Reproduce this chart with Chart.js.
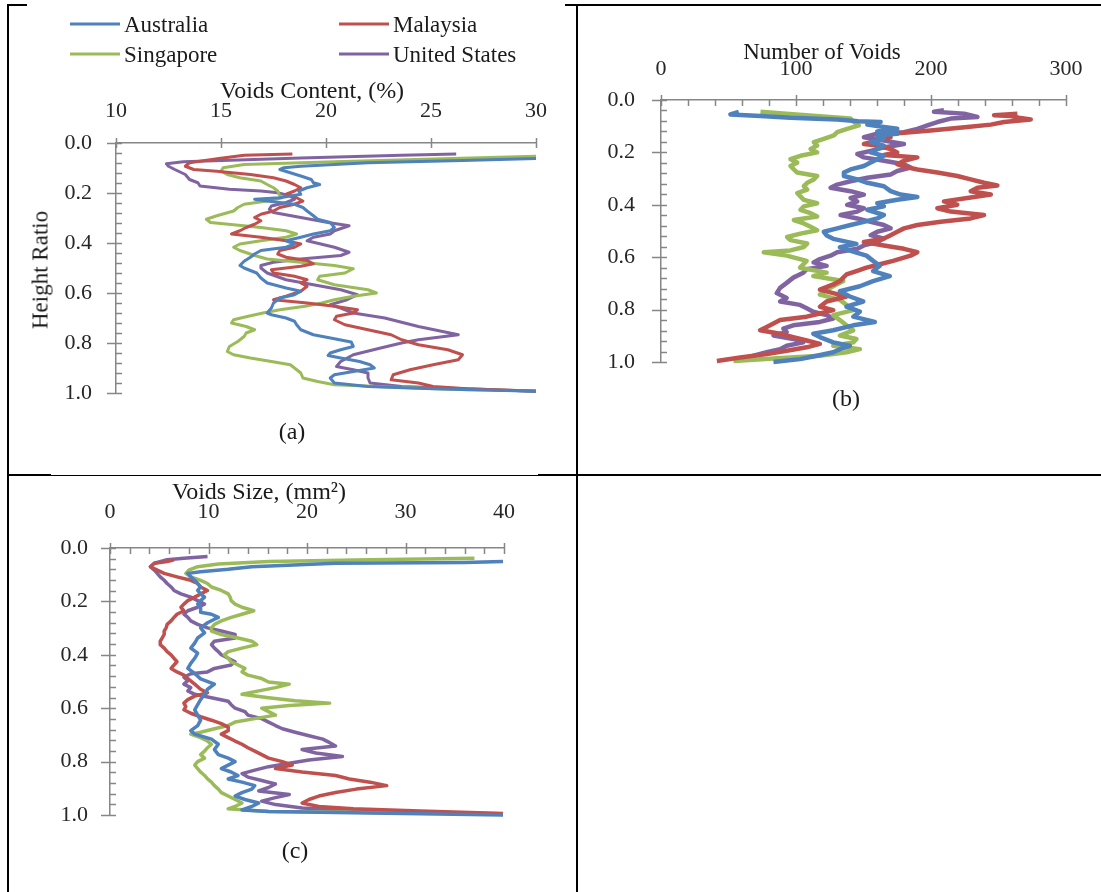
<!DOCTYPE html>
<html>
<head>
<meta charset="utf-8">
<script src="https://cdn.jsdelivr.net/npm/chart.js@4.4.1/dist/chart.umd.min.js"></script>
<style>
  body { margin: 0; background: #fff; }
  #page { position: relative; width: 1101px; height: 892px; background: #fff; overflow: hidden; }
  .rule { position: absolute; background: #000; }
  canvas { position: absolute; }
  .t { position: absolute; font-family: 'Liberation Serif', 'Times New Roman', serif; color: #1a1a1a;
       white-space: nowrap; line-height: 1; transform: translate(-50%, -50%); }
  .leg { position: absolute; display: flex; align-items: center; transform: translateY(-50%);
         font-family: 'Liberation Serif', 'Times New Roman', serif; font-size: 23px; color: #1a1a1a; line-height: 1; }
  .leg span { display: inline-block; width: 50px; height: 3px; margin-right: 4px; }
</style>
</head>
<body>
<div id="page">
  <!-- table rules -->
  <div class="rule" style="left:7px;top:4px;width:20px;height:2px"></div>
  <div class="rule" style="left:565px;top:4px;width:536px;height:2px"></div>
  <div class="rule" style="left:7px;top:4px;width:2px;height:888px"></div>
  <div class="rule" style="left:576px;top:4px;width:2px;height:888px"></div>
  <div class="rule" style="left:7px;top:474px;width:44px;height:2px"></div>
  <div class="rule" style="left:51px;top:475px;width:487px;height:1px"></div>
  <div class="rule" style="left:538px;top:474px;width:563px;height:2px"></div>

  <canvas id="chartA" width="566" height="466" style="left:9px;top:7px"></canvas>
  <canvas id="chartB" width="522" height="466" style="left:579px;top:7px"></canvas>
  <canvas id="chartC" width="566" height="415" style="left:9px;top:477px"></canvas>

  <div id="legend"></div>
  <div class="t" style="left:312px;top:90px;font-size:24px">Voids Content, (%)</div>
  <div class="t" style="left:40px;top:270px;font-size:23px;transform:translate(-50%,-50%) rotate(-90deg)">Height Ratio</div>
  <div class="t" style="left:292px;top:431px;font-size:24px">(a)</div>
  <div class="t" style="left:822px;top:51px;font-size:23px">Number of Voids</div>
  <div class="t" style="left:846px;top:398px;font-size:24px">(b)</div>
  <div class="t" style="left:259px;top:491px;font-size:24px">Voids Size, (mm²)</div>
  <div class="t" style="left:295px;top:850px;font-size:24px">(c)</div>
</div>
<script>
const countries = ["Australia", "Malaysia", "Singapore", "United States"];
const colors = ["#4F81BD", "#C0504D", "#9BBB59", "#8064A2"];

const heightTicks = [0, 0.2, 0.4, 0.6, 0.8, 1.0];
const contentTicks = [10, 15, 20, 25, 30];
const numberTicks = [0, 100, 200, 300];
const sizeTicks = [0, 10, 20, 30, 40];

// [height ratio, value] pairs

// (a) voids content, %
const contentAustralia = [[0.062,30],[0.070,26.5],[0.079,22.0],[0.093,18.8],[0.099,18.0],[0.106,17.8],[0.119,18.3],[0.132,18.8],[0.146,19.3],[0.159,19.4],[0.166,19.7],[0.179,19.1],[0.192,18.7],[0.205,18.8],[0.219,17.8],[0.225,16.6],[0.232,17.2],[0.245,18.5],[0.258,18.9],[0.272,19.1],[0.291,19.4],[0.305,19.6],[0.318,20.2],[0.338,20.4],[0.351,20.2],[0.364,19.4],[0.377,18.8],[0.391,18.1],[0.404,18.5],[0.417,18.1],[0.430,16.9],[0.444,16.6],[0.457,16.4],[0.473,16.1],[0.490,15.9],[0.500,16.1],[0.520,16.7],[0.540,16.9],[0.560,17.2],[0.580,18.1],[0.593,18.8],[0.607,18.5],[0.620,17.8],[0.640,17.5],[0.660,17.4],[0.680,17.2],[0.687,17.4],[0.700,18.1],[0.713,18.5],[0.727,18.6],[0.747,18.8],[0.767,19.4],[0.783,20.4],[0.796,21.2],[0.814,21.3],[0.827,20.7],[0.840,20.2],[0.850,20.1],[0.860,20.7],[0.874,21.6],[0.887,22.1],[0.900,22.3],[0.914,21.3],[0.927,20.4],[0.940,20.2],[0.960,20.4],[0.974,22.0],[0.983,25.1],[0.993,30]];
const contentMalaysia = [[0.044,18.4],[0.049,16.1],[0.062,14.9],[0.079,13.5],[0.093,13.3],[0.106,13.7],[0.113,14.8],[0.126,16.4],[0.139,17.5],[0.152,18.1],[0.166,18.5],[0.179,18.8],[0.192,18.5],[0.205,18.1],[0.219,18.6],[0.232,18.9],[0.245,18.5],[0.258,17.8],[0.272,17.5],[0.285,16.9],[0.298,16.6],[0.311,16.9],[0.325,16.6],[0.338,16.2],[0.351,15.9],[0.364,15.5],[0.377,16.9],[0.391,18.1],[0.404,18.8],[0.417,18.5],[0.430,17.8],[0.444,17.7],[0.457,18.1],[0.470,19.1],[0.483,19.4],[0.493,18.8],[0.507,17.4],[0.520,17.5],[0.533,18.5],[0.547,19.1],[0.560,18.8],[0.573,19.1],[0.593,18.8],[0.613,18.1],[0.627,17.5],[0.640,19.1],[0.653,20.4],[0.667,21.5],[0.680,21.3],[0.693,20.5],[0.707,20.4],[0.727,20.9],[0.747,22.0],[0.767,23.1],[0.787,23.6],[0.807,24.4],[0.827,25.8],[0.847,26.5],[0.867,26.3],[0.887,25.1],[0.907,24.0],[0.927,23.2],[0.947,23.1],[0.960,24.4],[0.974,25.1],[0.983,26.7],[0.993,30]];
const contentSingapore = [[0.053,30],[0.062,26.0],[0.075,20.4],[0.086,16.1],[0.099,15.1],[0.113,15.0],[0.126,15.3],[0.139,15.9],[0.152,16.9],[0.166,17.2],[0.179,17.5],[0.192,17.7],[0.212,17.8],[0.219,17.9],[0.232,17.2],[0.245,16.1],[0.258,15.8],[0.272,15.6],[0.291,14.8],[0.305,14.3],[0.318,14.5],[0.327,15.6],[0.338,16.9],[0.351,18.1],[0.364,18.6],[0.377,18.1],[0.391,16.9],[0.404,15.9],[0.417,15.6],[0.430,15.9],[0.450,16.6],[0.464,17.2],[0.477,18.8],[0.490,20.4],[0.503,21.3],[0.520,20.9],[0.533,19.7],[0.547,19.6],[0.567,20.4],[0.587,22.0],[0.600,22.4],[0.613,21.3],[0.627,20.4],[0.640,19.8],[0.653,19.0],[0.667,17.8],[0.680,17.0],[0.693,16.3],[0.707,15.6],[0.720,15.5],[0.734,16.2],[0.747,16.6],[0.760,16.2],[0.774,16.1],[0.794,15.8],[0.814,15.4],[0.834,15.3],[0.847,15.6],[0.860,16.4],[0.874,17.4],[0.887,18.3],[0.900,18.5],[0.920,18.8],[0.940,18.9],[0.954,19.6],[0.967,20.4],[0.978,23.6],[0.987,26.7],[0.991,30]];
const contentUnitedStates = [[0.044,26.2],[0.049,23.6],[0.060,18.8],[0.075,13.2],[0.083,12.4],[0.093,12.5],[0.106,12.8],[0.126,13.3],[0.146,13.5],[0.159,13.9],[0.172,14.0],[0.185,15.4],[0.192,16.9],[0.199,17.7],[0.212,18.3],[0.225,18.5],[0.238,18.1],[0.252,17.4],[0.265,17.3],[0.278,17.5],[0.298,18.8],[0.318,20.1],[0.331,21.1],[0.351,20.4],[0.364,20.2],[0.377,19.4],[0.391,19.1],[0.417,20.4],[0.437,21.1],[0.450,20.7],[0.464,18.8],[0.477,17.5],[0.490,16.9],[0.500,16.9],[0.520,17.2],[0.547,18.1],[0.567,19.4],[0.587,20.7],[0.607,21.5],[0.627,21.0],[0.647,20.2],[0.660,20.7],[0.680,21.3],[0.700,22.8],[0.734,24.4],[0.767,26.3],[0.787,24.4],[0.800,23.6],[0.820,22.6],[0.847,21.3],[0.874,20.7],[0.894,20.5],[0.907,21.3],[0.920,22.0],[0.940,22.0],[0.960,22.1],[0.974,23.6],[0.983,26.7],[0.993,30]];

// (b) number of voids
const numberAustralia = [[0.045,57.6],[0.055,51.4],[0.061,73.7],[0.068,95.9],[0.074,130.5],[0.081,146.0],[0.084,162.7],[0.094,152.8],[0.103,165.1],[0.110,175.0],[0.120,160.2],[0.129,175.0],[0.135,160.2],[0.148,165.1],[0.161,155.3],[0.174,165.1],[0.187,160.2],[0.200,155.3],[0.213,165.1],[0.226,160.2],[0.239,155.3],[0.252,150.3],[0.265,140.4],[0.277,135.5],[0.290,135.5],[0.303,145.4],[0.316,152.8],[0.329,165.1],[0.348,170.1],[0.361,177.5],[0.370,189.9],[0.381,175.0],[0.394,160.2],[0.406,165.1],[0.419,152.8],[0.439,165.1],[0.452,160.2],[0.465,150.3],[0.477,140.4],[0.490,130.5],[0.503,120.6],[0.517,122.7],[0.530,127.6],[0.549,144.8],[0.562,132.5],[0.575,139.9],[0.594,152.2],[0.614,157.1],[0.633,162.1],[0.653,157.1],[0.672,169.5],[0.691,157.1],[0.711,147.3],[0.730,132.5],[0.750,139.9],[0.769,149.8],[0.789,137.4],[0.808,147.3],[0.827,142.4],[0.847,158.4],[0.860,142.4],[0.879,127.6],[0.892,112.8],[0.905,117.7],[0.925,127.6],[0.938,139.9],[0.951,132.5],[0.963,127.6],[0.979,112.8],[0.989,103.0],[1.0,83.3]];
const numberMalaysia = [[0.052,264.0],[0.058,246.7],[0.061,259.1],[0.068,265.0],[0.074,273.9],[0.084,254.1],[0.094,244.3],[0.103,226.9],[0.116,199.8],[0.125,180.0],[0.133,160.2],[0.142,170.1],[0.155,160.2],[0.168,150.3],[0.174,160.2],[0.187,170.1],[0.200,175.0],[0.210,165.1],[0.219,189.9],[0.232,180.0],[0.245,175.0],[0.254,180.0],[0.265,189.9],[0.277,204.7],[0.290,219.5],[0.303,229.4],[0.316,239.3],[0.326,249.2],[0.335,234.4],[0.348,229.4],[0.361,244.3],[0.374,226.9],[0.387,209.6],[0.400,219.5],[0.413,204.7],[0.426,214.6],[0.439,239.3],[0.452,229.4],[0.465,207.2],[0.477,189.9],[0.490,180.0],[0.503,175.0],[0.516,170.1],[0.529,165.1],[0.542,150.3],[0.555,165.1],[0.568,180.0],[0.581,189.9],[0.594,184.9],[0.614,171.9],[0.627,162.1],[0.640,152.2],[0.653,144.8],[0.666,137.4],[0.678,135.0],[0.691,132.5],[0.704,127.6],[0.724,117.7],[0.737,127.6],[0.750,137.4],[0.769,122.7],[0.789,117.7],[0.802,127.6],[0.815,117.7],[0.827,107.9],[0.840,88.2],[0.853,83.3],[0.866,78.3],[0.879,73.4],[0.892,88.2],[0.905,98.0],[0.918,107.9],[0.931,117.7],[0.944,107.9],[0.957,93.1],[0.970,78.3],[0.983,58.6],[0.996,41.4]];
const numberSingapore = [[0.045,73.7],[0.055,100.0],[0.065,125.0],[0.071,140.4],[0.084,142.9],[0.097,146.6],[0.110,137.9],[0.123,130.5],[0.135,128.1],[0.148,120.6],[0.161,113.2],[0.174,115.7],[0.187,110.8],[0.200,115.7],[0.213,103.3],[0.226,95.9],[0.239,100.9],[0.252,95.9],[0.265,98.4],[0.277,100.9],[0.290,115.7],[0.303,113.2],[0.316,108.3],[0.329,105.8],[0.342,108.3],[0.355,100.9],[0.368,103.3],[0.381,105.8],[0.394,115.7],[0.406,105.8],[0.419,103.3],[0.432,110.8],[0.445,115.7],[0.458,98.4],[0.471,105.8],[0.484,110.8],[0.497,115.7],[0.510,103.3],[0.523,93.4],[0.535,95.9],[0.548,108.3],[0.561,105.8],[0.574,95.9],[0.581,76.1],[0.594,93.1],[0.614,107.9],[0.640,103.0],[0.659,122.7],[0.672,112.8],[0.691,135.0],[0.711,127.6],[0.724,122.7],[0.743,117.7],[0.763,132.5],[0.782,137.4],[0.802,142.4],[0.821,127.6],[0.840,132.5],[0.860,137.4],[0.879,142.4],[0.899,132.5],[0.912,144.8],[0.925,142.4],[0.938,127.6],[0.951,147.3],[0.963,137.4],[0.976,117.7],[0.987,83.3],[0.996,53.7]];
const numberUnitedStates = [[0.039,209.6],[0.045,202.2],[0.052,224.5],[0.065,234.4],[0.071,214.6],[0.084,204.7],[0.097,197.3],[0.110,189.9],[0.123,180.0],[0.129,160.2],[0.142,150.3],[0.155,165.1],[0.168,180.0],[0.181,165.1],[0.194,155.3],[0.206,145.4],[0.219,150.3],[0.232,165.1],[0.245,180.0],[0.258,184.9],[0.271,175.0],[0.284,170.1],[0.297,152.8],[0.310,140.4],[0.323,130.5],[0.335,125.6],[0.348,140.4],[0.361,150.3],[0.374,140.4],[0.387,145.4],[0.400,137.9],[0.413,150.3],[0.426,145.4],[0.439,133.0],[0.452,145.4],[0.465,155.3],[0.477,165.1],[0.490,170.1],[0.503,160.2],[0.516,155.3],[0.529,165.1],[0.542,160.2],[0.555,150.3],[0.568,145.4],[0.581,130.5],[0.594,125.6],[0.607,117.7],[0.620,113.0],[0.633,122.7],[0.646,107.9],[0.659,105.4],[0.678,98.0],[0.698,93.1],[0.717,88.2],[0.737,85.7],[0.756,93.1],[0.769,88.2],[0.782,103.0],[0.795,107.9],[0.808,112.8],[0.821,122.7],[0.834,127.6],[0.847,117.7],[0.860,98.0],[0.873,90.6],[0.886,93.1],[0.899,83.3],[0.912,98.0],[0.925,105.4],[0.938,93.1],[0.951,88.2],[0.963,78.3],[0.976,68.5],[0.989,58.6]];

// (c) voids size, mm2
const sizeAustralia = [[0.051,39.9],[0.054,36.0],[0.057,22.9],[0.070,14.4],[0.080,12.0],[0.089,9.2],[0.095,7.9],[0.108,8.2],[0.121,8.6],[0.133,8.9],[0.146,9.2],[0.159,8.9],[0.172,9.2],[0.184,9.6],[0.197,9.2],[0.210,8.9],[0.222,9.2],[0.241,9.2],[0.248,10.3],[0.260,11.0],[0.267,10.6],[0.280,9.9],[0.299,9.2],[0.318,9.6],[0.337,8.9],[0.356,8.6],[0.375,8.2],[0.394,8.9],[0.413,8.6],[0.432,8.2],[0.451,7.9],[0.470,8.6],[0.490,9.2],[0.510,10.6],[0.529,9.9],[0.548,9.6],[0.568,9.2],[0.587,8.9],[0.606,8.6],[0.626,8.9],[0.645,9.2],[0.665,8.9],[0.684,8.2],[0.697,8.6],[0.716,10.3],[0.735,11.0],[0.755,10.6],[0.774,11.0],[0.787,12.0],[0.800,12.7],[0.813,12.0],[0.826,11.3],[0.839,12.3],[0.852,13.0],[0.865,12.0],[0.877,13.4],[0.890,14.7],[0.903,14.4],[0.916,13.4],[0.929,12.7],[0.942,13.7],[0.955,15.1],[0.968,14.4],[0.981,13.4],[0.987,16.1],[0.994,29.8],[1.0,39.9]];
const sizeMalaysia = [[0.044,6.5],[0.051,5.8],[0.057,4.5],[0.070,4.1],[0.083,4.8],[0.095,5.5],[0.108,6.8],[0.121,8.2],[0.133,8.9],[0.146,9.2],[0.159,9.9],[0.172,9.2],[0.184,8.6],[0.197,7.9],[0.210,7.5],[0.222,7.2],[0.235,7.5],[0.248,6.8],[0.260,6.5],[0.273,6.2],[0.286,5.8],[0.299,5.7],[0.311,5.5],[0.324,5.5],[0.337,5.3],[0.349,5.1],[0.362,5.1],[0.375,5.5],[0.388,5.8],[0.400,6.2],[0.413,6.5],[0.426,6.8],[0.438,6.5],[0.451,6.2],[0.464,6.8],[0.476,7.5],[0.489,7.9],[0.510,8.6],[0.529,9.2],[0.542,9.9],[0.555,8.6],[0.568,7.9],[0.581,7.5],[0.594,7.7],[0.606,7.5],[0.619,8.2],[0.632,9.2],[0.645,10.3],[0.658,11.3],[0.671,12.0],[0.684,12.0],[0.697,11.3],[0.710,12.0],[0.723,12.7],[0.735,13.4],[0.748,14.0],[0.761,14.7],[0.774,15.4],[0.787,16.1],[0.800,17.5],[0.813,18.5],[0.826,16.8],[0.839,19.5],[0.852,22.9],[0.865,24.3],[0.877,26.4],[0.890,28.1],[0.903,25.0],[0.916,22.9],[0.929,21.2],[0.942,20.2],[0.955,19.5],[0.968,21.2],[0.977,24.7],[0.985,31.5],[0.994,39.9]];
const sizeSingapore = [[0.038,37.0],[0.044,26.4],[0.051,16.1],[0.060,11.0],[0.070,8.9],[0.083,8.0],[0.095,7.7],[0.108,8.2],[0.121,9.2],[0.133,9.9],[0.146,10.3],[0.159,11.3],[0.172,12.0],[0.184,12.2],[0.197,12.3],[0.210,12.7],[0.222,13.4],[0.235,14.6],[0.248,13.4],[0.260,12.3],[0.273,11.3],[0.286,10.6],[0.299,10.3],[0.311,10.3],[0.324,11.3],[0.337,13.0],[0.349,14.4],[0.362,14.9],[0.375,13.4],[0.388,12.0],[0.400,11.6],[0.413,12.0],[0.426,12.3],[0.438,13.0],[0.451,13.7],[0.464,13.4],[0.476,14.0],[0.489,15.4],[0.502,16.1],[0.510,18.2],[0.523,16.8],[0.535,15.1],[0.548,13.4],[0.561,16.1],[0.572,18.8],[0.581,22.3],[0.590,18.2],[0.600,15.4],[0.613,16.1],[0.626,16.8],[0.639,14.7],[0.652,12.7],[0.665,12.0],[0.677,10.6],[0.690,9.2],[0.697,8.2],[0.710,9.2],[0.723,9.9],[0.735,10.3],[0.748,9.9],[0.761,9.6],[0.774,9.2],[0.787,9.6],[0.800,8.9],[0.813,8.6],[0.826,8.9],[0.839,9.2],[0.852,9.6],[0.865,9.9],[0.877,10.3],[0.890,10.6],[0.903,11.0],[0.916,11.3],[0.929,12.0],[0.942,12.7],[0.955,13.4],[0.968,12.7],[0.977,12.0],[0.987,16.1],[0.992,29.8],[0.995,39.9]];
const sizeUnitedStates = [[0.032,9.9],[0.038,7.5],[0.044,5.8],[0.057,4.5],[0.070,4.1],[0.083,4.5],[0.095,4.8],[0.108,5.1],[0.121,5.5],[0.133,5.8],[0.146,6.2],[0.159,6.5],[0.172,7.2],[0.184,8.2],[0.197,8.9],[0.210,9.6],[0.222,8.9],[0.235,7.9],[0.248,7.5],[0.260,7.9],[0.273,8.2],[0.286,8.9],[0.299,9.9],[0.311,11.3],[0.324,12.7],[0.337,12.7],[0.349,10.6],[0.362,10.3],[0.375,10.6],[0.388,11.0],[0.400,11.3],[0.413,12.0],[0.426,12.7],[0.438,12.3],[0.451,10.6],[0.464,9.9],[0.471,8.2],[0.484,7.5],[0.497,7.9],[0.510,7.5],[0.523,8.2],[0.535,7.9],[0.548,8.6],[0.561,10.3],[0.574,12.0],[0.587,12.3],[0.600,12.7],[0.613,13.7],[0.626,14.0],[0.639,15.4],[0.652,16.1],[0.665,16.8],[0.677,17.5],[0.690,18.8],[0.703,20.2],[0.716,21.6],[0.729,22.3],[0.742,22.9],[0.755,19.5],[0.768,20.9],[0.781,23.6],[0.794,20.2],[0.806,18.2],[0.819,16.1],[0.832,14.7],[0.845,13.4],[0.858,14.0],[0.871,15.4],[0.884,16.8],[0.897,16.1],[0.910,15.1],[0.923,18.2],[0.935,16.8],[0.948,15.4],[0.961,16.8],[0.974,19.5],[0.987,26.4],[0.997,39.9]];

const AXIS = "#868686";
const SERIF = "'Liberation Serif', 'Times New Roman', serif";

// legend (2 x 2, like the Excel one)
const legendPos = [[70, 24], [339, 24], [70, 54], [339, 54]];
const legendBox = document.getElementById("legend");
countries.forEach((name, i) => {
  const d = document.createElement("div");
  d.className = "leg";
  d.style.left = legendPos[i][0] + "px";
  d.style.top = legendPos[i][1] + "px";
  d.innerHTML = '<span style="background:' + colors[i] + '"></span>' + name;
  legendBox.appendChild(d);
});

// major ticks cross the axis, minor ticks point inward
const tickMarks = {
  id: "tickMarks",
  afterDraw(chart, args, opts) {
    const ctx = chart.ctx, a = chart.chartArea;
    const xs = chart.scales.x, ys = chart.scales.y;
    const each = (scale, step, fn) => {
      const n = Math.round((scale.max - scale.min) / step);
      for (let i = 0; i <= n; i++) fn(Math.round(scale.getPixelForValue(scale.min + i * step)) + 0.5);
    };
    ctx.save();
    ctx.strokeStyle = AXIS;
    ctx.lineWidth = 1.5;
    ctx.beginPath();
    each(xs, opts.xMajor, p => { ctx.moveTo(p, a.top - 5); ctx.lineTo(p, a.top + 5); });
    if (opts.xMinor) each(xs, opts.xMinor, p => { ctx.moveTo(p, a.top); ctx.lineTo(p, a.top + 6); });
    each(ys, opts.yMajor, p => { ctx.moveTo(a.left - 9, p); ctx.lineTo(a.left + 4, p); });
    each(ys, opts.yMinor, p => { ctx.moveTo(a.left, p); ctx.lineTo(a.left + 6, p); });
    ctx.stroke();
    ctx.restore();
  }
};

function makePanel(canvasId, seriesList, xTicks, cfg) {
  return new Chart(document.getElementById(canvasId), {
    type: "scatter",
    data: {
      datasets: seriesList.map((pts, i) => ({
        label: countries[i],
        data: pts.map(p => ({ x: p[1], y: p[0] })),
        showLine: true,
        borderColor: colors[i],
        backgroundColor: colors[i],
        borderWidth: cfg.lineWidth,
        borderJoinStyle: "round",
        pointRadius: 0,
        tension: 0,
        clip: false
      }))
    },
    options: {
      responsive: false,
      animation: false,
      events: [],
      layout: { padding: cfg.padding },
      plugins: {
        legend: { display: false },
        tooltip: { enabled: false },
        tickMarks: { xMajor: xTicks[1] - xTicks[0], xMinor: cfg.xMinor, yMajor: 0.2, yMinor: 0.04 }
      },
      scales: {
        x: {
          type: "linear",
          position: "top",
          min: xTicks[0],
          max: xTicks[xTicks.length - 1],
          afterBuildTicks: s => { s.ticks = xTicks.map(v => ({ value: v })); },
          afterFit: s => { s.height = cfg.xAxisH; },
          ticks: { callback: v => String(v), font: { family: SERIF, size: 22 }, color: "#262626", padding: cfg.xPad, maxRotation: 0, autoSkip: false },
          grid: { display: false, drawTicks: false },
          border: { color: AXIS, width: 1.5 }
        },
        y: {
          type: "linear",
          reverse: true,
          min: 0,
          max: 1,
          afterBuildTicks: s => { s.ticks = heightTicks.map(v => ({ value: v })); },
          afterFit: s => { s.width = cfg.yAxisW; },
          ticks: { callback: v => v.toFixed(1), font: { family: SERIF, size: 22 }, color: "#262626", padding: cfg.yPad, autoSkip: false },
          grid: { display: false, drawTicks: false },
          border: { color: AXIS, width: 1.5 }
        }
      }
    },
    plugins: [tickMarks]
  });
}

makePanel("chartA", [contentAustralia, contentMalaysia, contentSingapore, contentUnitedStates], contentTicks,
  { padding: { left: 0, top: 0, right: 39, bottom: 80 }, yAxisW: 107, xAxisH: 136, xPad: 19, yPad: 24, xMinor: null, lineWidth: 3 });

makePanel("chartB", [numberAustralia, numberMalaysia, numberSingapore, numberUnitedStates], numberTicks,
  { padding: { left: 0, top: 0, right: 35, bottom: 111 }, yAxisW: 82, xAxisH: 93, xPad: 18, yPad: 26, xMinor: 20, lineWidth: 4.5 });

makePanel("chartC", [sizeAustralia, sizeMalaysia, sizeSingapore, sizeUnitedStates], sizeTicks,
  { padding: { left: 0, top: 0, right: 71, bottom: 77 }, yAxisW: 101, xAxisH: 71, xPad: 23, yPad: 22, xMinor: 2, lineWidth: 3.5 });
</script>
</body>
</html>
